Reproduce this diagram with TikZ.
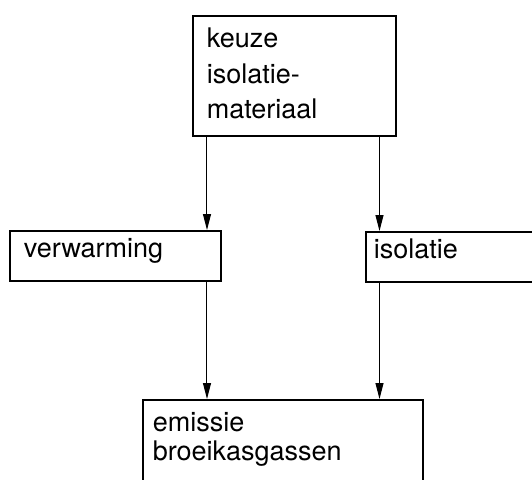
\documentclass[tikz,border=0pt]{standalone}
\usepackage{fontspec}
\setmainfont{TeX Gyre Heros}
\usetikzlibrary{arrows.meta}

\begin{document}
\begin{tikzpicture}[
  x=0.5pt, y=-0.5pt,
  blok/.style={draw,line width=0.8pt,anchor=north west,align=left,
    inner ysep=0pt,inner xsep=7pt,font=\fontsize{13.5}{17.75}\selectfont},
  enkel/.style={blok,text height=13.5pt,text depth=11.5pt},
  arr/.style={-{Triangle[length=8pt,width=4pt]},line width=0.5pt}
]
  \useasboundingbox (0,0) rectangle (532,479);
  \clip (0,0) rectangle (532,479);

  % bovenste blok
  \node[blok,text width=87.5pt,text height=16pt,text depth=44pt] (keuze) at (192,15) {keuze\\isolatie-\\materiaal};

  % middelste rij
  \node[enkel,text width=91.5pt] (verw) at (9,230) {verwarming};
  \node[enkel,text width=100pt,inner xsep=4pt] (isol) at (365,231) {isolatie};

  % onderste blok
  \node[blok,text width=130pt,inner xsep=5pt,text height=16pt,text depth=30pt,
    font=\fontsize{13.5}{14.5}\selectfont] (emis) at (142,399) {emissie\\broeikasgassen};

  % pijlen
  \coordinate (la) at (207,0);
  \coordinate (ra) at (379.5,0);
  \draw[arr] (keuze.south -| la) -- (verw.north -| la);
  \draw[arr] (keuze.south -| ra) -- (isol.north -| ra);
  \draw[arr] (verw.south -| la) -- (emis.north -| la);
  \draw[arr] (isol.south -| ra) -- (emis.north -| ra);
\end{tikzpicture}
\end{document}
